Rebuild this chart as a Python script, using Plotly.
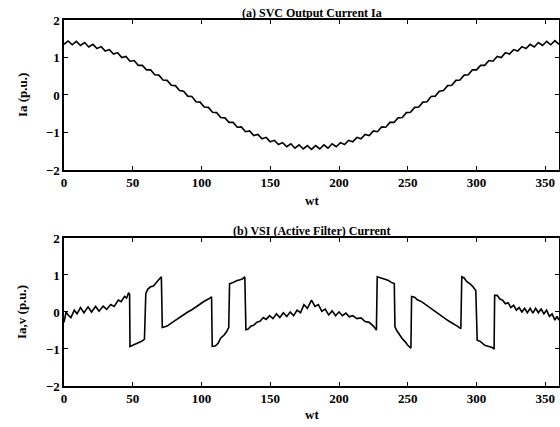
import plotly.graph_objects as go

# ---- (a) SVC output current Ia, sampled every 3 degrees ----
wt_a = list(range(0, 361, 3))
ia = [1.35, 1.44, 1.34, 1.43, 1.32, 1.40, 1.28, 1.35, 1.24, 1.29,
      1.17, 1.21, 1.09, 1.13, 1.00, 1.03, 0.90, 0.92, 0.79, 0.79,
      0.67, 0.67, 0.54, 0.53, 0.40, 0.39, 0.26, 0.25, 0.12, 0.10,
      -0.03, -0.04, -0.18, -0.19, -0.32, -0.33, -0.46, -0.47, -0.60, -0.61,
      -0.73, -0.73, -0.86, -0.85, -0.98, -0.96, -1.08, -1.05, -1.17, -1.13,
      -1.25, -1.21, -1.32, -1.27, -1.38, -1.30, -1.42, -1.33, -1.44, -1.35,
      -1.45, -1.35, -1.44, -1.33, -1.42, -1.30, -1.38, -1.27, -1.32, -1.21,
      -1.25, -1.13, -1.17, -1.05, -1.08, -0.96, -0.98, -0.85, -0.86, -0.73,
      -0.73, -0.61, -0.60, -0.47, -0.46, -0.33, -0.32, -0.19, -0.18, -0.04,
      -0.03, 0.10, 0.12, 0.25, 0.26, 0.39, 0.40, 0.53, 0.54, 0.67,
      0.67, 0.79, 0.79, 0.92, 0.90, 1.03, 1.00, 1.13, 1.09, 1.21,
      1.17, 1.29, 1.24, 1.35, 1.28, 1.40, 1.32, 1.43, 1.34, 1.45,
      1.35]

# ---- (b) VSI (active filter) current ----
wt_b = [0, 1.5, 3, 5, 7.5, 9.5, 12, 14.5, 17.5, 20, 23, 25.5, 28.5, 31, 34, 36.5, 39.5, 41.5, 44, 45.5, 47, 47.7,
        48, 50, 52, 54, 56, 58.5,
        59.5, 61, 63, 65, 67, 69, 70.8,
        71.5, 73.3, 75, 78, 81, 84, 87, 90, 93, 96, 99, 102, 105, 107.3,
        107.8, 110, 112, 114, 116, 118, 119.8,
        120.4, 122, 124, 126, 128, 130, 131.5,
        132.3, 134, 136, 138, 140, 142.5, 145, 147, 149.5, 152, 154.5, 157, 159.5, 162, 164.5, 167, 169.5, 172,
        174.5, 177, 180, 182.5, 185, 187.5, 190, 192.5, 195, 197.5, 200, 202.5, 205, 207.5, 210, 213, 216, 219,
        222, 225, 227.2,
        227.8, 230, 232, 234, 236, 238, 240.2,
        240.7, 242, 244, 246, 248, 250, 252.3,
        252.8, 255, 257, 260, 263, 266, 269, 272, 275, 278, 281, 284, 286, 288.6,
        289.3, 291, 293, 295, 297, 299.5,
        300.5, 303, 306, 309, 311, 312.8,
        313.2, 315, 317, 319, 321, 323, 325, 327, 329, 331, 333, 335, 337, 339, 341, 343, 345, 347, 349, 351,
        353, 355, 357, 358.5, 360]
iav = [-0.28, 0.0, -0.08, -0.15, 0.05, -0.05, 0.12, -0.02, 0.14, 0.0, 0.15, 0.02, 0.16, 0.07, 0.2, 0.15, 0.32, 0.28, 0.42, 0.38, 0.52, 0.48,
       -0.93, -0.9, -0.87, -0.82, -0.8, -0.74,
       0.5, 0.62, 0.68, 0.7, 0.8, 0.88, 0.95,
       -0.42, -0.4, -0.38, -0.3, -0.22, -0.15, -0.07, 0.0, 0.06, 0.14, 0.2, 0.29, 0.35, 0.41,
       -0.93, -0.92, -0.85, -0.7, -0.64, -0.55, -0.42,
       0.76, 0.78, 0.82, 0.85, 0.87, 0.9, 0.95,
       -0.48, -0.46, -0.38, -0.36, -0.28, -0.25, -0.15, -0.2, -0.1, -0.18, -0.05, -0.15, -0.02, -0.12, 0.0, -0.1, 0.05, -0.02,
       0.2, 0.1, 0.32, 0.15, 0.2, 0.02, 0.08, -0.08, 0.03, -0.1, 0.0, -0.1, -0.03, -0.13, -0.1, -0.18, -0.16, -0.26,
       -0.28, -0.38, -0.49,
       0.95, 0.93, 0.9, 0.88, 0.85, 0.8, 0.77,
       -0.4, -0.5, -0.62, -0.72, -0.8, -0.9, -0.98,
       0.42, 0.4, 0.33, 0.28, 0.2, 0.12, 0.02, -0.05, -0.12, -0.2, -0.27, -0.33, -0.38, -0.45,
       0.95, 0.92, 0.82, 0.77, 0.7, 0.58,
       -0.76, -0.8, -0.9, -0.93, -0.95, -1.0,
       0.45, 0.45, 0.35, 0.32, 0.22, 0.25, 0.12, 0.18, 0.05, 0.12, 0.0, 0.1, -0.02, 0.1, -0.03, 0.1, -0.02, 0.08, -0.05, 0.05,
       -0.12, -0.05, -0.22, -0.12, -0.22]

x_ticks = [0, 50, 100, 150, 200, 250, 300, 350]
y_ticks = [-2, -1, 0, 1, 2]

FONT = "Liberation Serif"
tickfont = dict(family=FONT, size=13, color="black", weight="bold")

fig = go.Figure()
fig.add_trace(go.Scatter(x=wt_a, y=ia, mode="lines", line=dict(color="black", width=1.6),
                         xaxis="x", yaxis="y", showlegend=False, hoverinfo="skip"))
fig.add_trace(go.Scatter(x=wt_b, y=iav, mode="lines", line=dict(color="black", width=1.6),
                         xaxis="x2", yaxis="y2", showlegend=False, hoverinfo="skip"))

axis_common = dict(showline=True, linecolor="black", linewidth=1.5, mirror="ticks",
                   ticks="inside", ticklen=4, tickwidth=1, tickcolor="black",
                   showgrid=False, zeroline=False, tickfont=tickfont, automargin=False)

fig.update_layout(
    template="none",
    width=560, height=427,
    margin=dict(l=64, r=1, t=20, b=41),
    paper_bgcolor="white", plot_bgcolor="white",
    xaxis=dict(domain=[0, 1], range=[0, 360], tickvals=x_ticks, anchor="y", **axis_common),
    yaxis=dict(domain=[0.5902, 1], range=[-2, 2], tickvals=y_ticks, anchor="x", **axis_common),
    xaxis2=dict(domain=[0, 1], range=[0, 360], tickvals=x_ticks, anchor="y2", **axis_common),
    yaxis2=dict(domain=[0, 0.4044], range=[-2, 2], tickvals=y_ticks, anchor="x2", **axis_common),
)

labfont = dict(family=FONT, size=13, color="black", weight="bold")
titfont = dict(family=FONT, size=12, color="black", weight="bold")
ann = [
    dict(text="(a) SVC Output Current Ia", x=0.5, y=1.0, xref="paper", yref="paper",
         xanchor="center", yanchor="bottom", yshift=-2, showarrow=False, font=titfont),
    dict(text="(b) VSI (Active Filter) Current", x=0.5, y=0.4044, xref="paper", yref="paper",
         xanchor="center", yanchor="bottom", yshift=-2, showarrow=False, font=titfont),
    dict(text="wt", x=0.5, y=0.5902, xref="paper", yref="paper", xanchor="center", yanchor="top",
         yshift=-21, showarrow=False, font=labfont),
    dict(text="wt", x=0.5, y=0.0, xref="paper", yref="paper", xanchor="center", yanchor="top",
         yshift=-19, showarrow=False, font=labfont),
    dict(text="Ia (p.u.)", x=0, y=0.795, xref="paper", yref="paper", xanchor="center", yanchor="middle",
         xshift=-42, textangle=-90, showarrow=False, font=labfont),
    dict(text="Ia,v (p.u.)", x=0, y=0.2022, xref="paper", yref="paper", xanchor="center", yanchor="middle",
         xshift=-42, textangle=-90, showarrow=False, font=labfont),
]
fig.update_layout(annotations=ann)

fig.write_html("out.html", config={"displayModeBar": False},
               post_script="document.body.style.margin='0';document.body.style.overflow='hidden';")
